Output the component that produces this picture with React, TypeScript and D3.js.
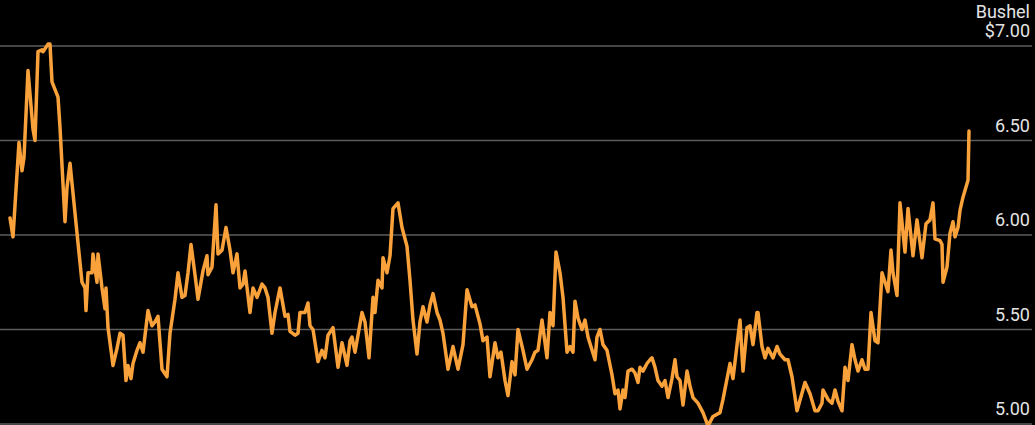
import React from "react";
import * as d3 from "d3";

// Time position (trading-day offset) and price in $/bushel
const days: number[] = [0,3,9,12,14,18,23,25,28,32,33,38,40,42,48,50,55,57,60,67,72,75,76,78,82,83,87,88,92,95,96,98,102,103,107,110,113,116,118,121,123,127,130,133,138,142,145,148,152,157,160,165,168,172,175,178,181,185,188,193,197,198,202,206,208,212,216,220,223,227,230,233,235,240,243,247,252,255,258,262,265,270,275,278,280,285,288,290,295,298,300,303,308,312,315,318,323,328,332,337,340,342,345,352,355,359,363,365,368,372,373,377,380,383,388,392,393,397,400,403,407,410,413,417,420,423,427,430,433,438,443,448,453,457,462,465,470,473,477,480,485,488,491,495,498,502,505,508,513,517,522,525,528,532,537,540,543,546,550,553,557,560,563,565,568,572,575,578,585,587,590,593,597,602,605,608,610,613,615,618,622,625,628,630,633,637,640,642,645,648,652,655,658,662,665,667,670,673,677,680,683,688,693,698,703,710,713,720,723,730,733,737,740,743,747,748,752,755,758,763,767,770,775,778,782,787,795,800,805,808,812,813,818,822,825,828,832,835,838,842,845,848,852,855,858,861,865,868,872,878,881,883,887,890,895,898,903,907,912,916,920,923,925,930,932,933,937,940,943,945,948,950,953,958,959];
const prices: number[] = [6.09,5.99,6.49,6.34,6.41,6.87,6.56,6.50,6.97,6.98,6.97,7.01,7.01,6.81,6.73,6.57,6.07,6.25,6.38,6.01,5.75,5.72,5.60,5.80,5.80,5.90,5.75,5.90,5.72,5.61,5.72,5.51,5.35,5.31,5.40,5.48,5.47,5.23,5.31,5.24,5.32,5.39,5.43,5.38,5.60,5.52,5.54,5.57,5.29,5.25,5.48,5.66,5.80,5.67,5.68,5.80,5.95,5.79,5.66,5.81,5.89,5.79,5.83,6.16,5.90,5.92,6.04,5.92,5.80,5.90,5.72,5.74,5.81,5.59,5.72,5.67,5.74,5.72,5.67,5.48,5.59,5.72,5.57,5.58,5.49,5.47,5.48,5.59,5.59,5.64,5.52,5.50,5.33,5.39,5.35,5.47,5.51,5.30,5.43,5.31,5.44,5.46,5.38,5.59,5.54,5.35,5.67,5.59,5.76,5.72,5.88,5.80,5.89,6.14,6.17,6.04,6.02,5.94,5.76,5.55,5.37,5.54,5.62,5.54,5.63,5.69,5.59,5.55,5.48,5.29,5.41,5.29,5.42,5.71,5.62,5.63,5.53,5.44,5.46,5.25,5.43,5.35,5.38,5.23,5.15,5.33,5.26,5.50,5.39,5.29,5.34,5.38,5.39,5.55,5.35,5.59,5.52,5.91,5.80,5.67,5.38,5.41,5.38,5.65,5.56,5.50,5.55,5.46,5.34,5.46,5.50,5.42,5.39,5.26,5.16,5.18,5.08,5.18,5.14,5.28,5.29,5.27,5.22,5.30,5.28,5.32,5.34,5.35,5.30,5.23,5.20,5.23,5.14,5.24,5.34,5.25,5.23,5.10,5.28,5.20,5.14,5.11,5.06,4.99,5.04,5.06,5.13,5.32,5.24,5.55,5.28,5.51,5.52,5.42,5.59,5.59,5.41,5.35,5.40,5.35,5.41,5.37,5.34,5.34,5.25,5.07,5.22,5.16,5.07,5.07,5.11,5.18,5.13,5.11,5.18,5.12,5.07,5.30,5.23,5.42,5.34,5.28,5.34,5.29,5.29,5.59,5.44,5.43,5.80,5.70,5.92,5.80,5.68,6.17,5.91,6.14,5.89,6.08,5.88,6.06,6.08,6.17,5.98,5.97,5.95,5.75,5.83,6.01,6.07,5.99,6.04,6.13,6.20,6.29,6.55];

const yTicks: number[] = [5, 5.5, 6, 6.5, 7];
const tickLabels: string[] = ["5.00", "5.50", "6.00", "6.50", "$7.00"];
const unitLabel = "Bushel";

const W = 1035;
const H = 425;

export default function App() {
  const x = d3.scaleLinear().domain([0, 959]).range([10, 969]);
  const y = d3.scaleLinear().domain([5, 7]).range([424, 46]);
  const data = days.map((d, i) => [d, prices[i]] as [number, number]);
  const line = d3
    .line<[number, number]>()
    .x((d) => x(d[0]))
    .y((d) => y(d[1]));

  return (
    <svg
      width={W}
      height={H}
      style={{ position: "fixed", left: 0, top: 0, background: "#000", display: "block" }}
    >
      <rect x={0} y={0} width={W} height={H} fill="#000" />
      {yTicks.map((t, i) => (
        <g key={t}>
          <line x1={0} x2={1032} y1={y(t)} y2={y(t)} stroke="#5c5c5c" strokeWidth={1.5} />
          <text
            x={1030}
            y={y(t) - 9}
            textAnchor="end"
            fill="#e4e4e4"
            fontFamily="Roboto, 'Noto Sans', sans-serif"
            fontSize={18}
          >
            {tickLabels[i]}
          </text>
        </g>
      ))}
      <text
        x={1030}
        y={y(7) - 28}
        textAnchor="end"
        fill="#e4e4e4"
        fontFamily="Roboto, 'Noto Sans', sans-serif"
        fontSize={18}
      >
        {unitLabel}
      </text>
      <path
        d={line(data) || ""}
        fill="none"
        stroke="#f9a13a"
        strokeWidth={3.5}
        strokeLinejoin="round"
        strokeLinecap="round"
      />
    </svg>
  );
}
